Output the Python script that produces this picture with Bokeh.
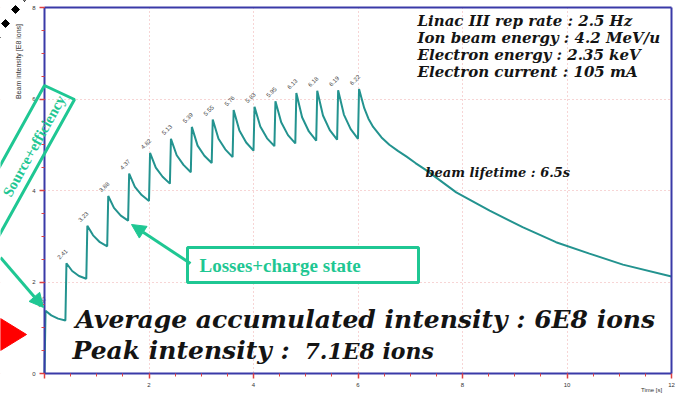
import math
from bokeh.plotting import figure
from bokeh.models import (Range1d, Label, Arrow, NormalHead, BoxAnnotation,
                          PolyAnnotation, FixedTicker, ColumnDataSource, LinearAxis)
from bokeh.embed import file_html
from bokeh.resources import INLINE
from bokeh.core.properties import value

# ---------------- data ----------------
inj_t = [0.0, 0.4, 0.8, 1.2, 1.6, 2.0, 2.4, 2.8, 3.2, 3.6, 4.0, 4.4, 4.8, 5.2, 5.6, 6.0]
peak_vals = [1.37, 2.41, 3.23, 3.88, 4.37, 4.82, 5.13, 5.39, 5.55, 5.76, 5.83, 5.95,
             6.13, 6.18, 6.19, 6.22]
peak_labels = ["1.37", "2.41", "3.23", "3.88", "4.37", "4.82", "5.13", "5.39", "5.55",
               "5.76", "5.83", "5.95", "6.13", "6.18", "6.19", "6.22"]
# values inside each decay between two injections
mid1_vals = [1.27, 2.24, 3.02, 3.62, 4.08, 4.50, 4.77, 4.98, 5.13, 5.31, 5.40, 5.49, 5.60, 5.64, 5.66]
mid2_vals = [1.20, 2.13, 2.87, 3.45, 3.90, 4.30, 4.56, 4.76, 4.90, 5.05, 5.14, 5.21, 5.29, 5.32, 5.34]
trough_vals = [1.16, 2.07, 2.78, 3.34, 3.77, 4.15, 4.40, 4.60, 4.73, 4.87, 4.97, 5.03, 5.09, 5.11, 5.13]
# final decay after the last injection
decay_t = [6.12, 6.20, 6.29, 6.45, 6.60, 6.77, 6.93, 7.10, 7.31, 7.88, 8.52, 9.15, 9.79,
           10.43, 11.07, 12.0]
decay_vals = [5.80, 5.57, 5.39, 5.16, 5.00, 4.86, 4.74, 4.60, 4.44, 3.96, 3.56, 3.20, 2.87,
              2.62, 2.38, 2.12]

x_ticks = [0, 2, 4, 6, 8, 10, 12]
y_ticks = [0, 2, 4, 6, 8]

info_lines = ["Linac III rep rate : 2.5 Hz", "Ion beam energy : 4.2 MeV/u",
              "Electron energy : 2.35 keV", "Electron current : 105 mA"]

# ---------------- build the curve ----------------
t_curve = [0.0]
y_curve = [0.0]
for i, t0 in enumerate(inj_t):
    t_curve.append(t0 + 0.02)
    y_curve.append(peak_vals[i])
    if i < len(trough_vals):
        t_curve += [t0 + 0.13, t0 + 0.26, t0 + 0.4]
        y_curve += [mid1_vals[i], mid2_vals[i], trough_vals[i]]
t_curve += decay_t
y_curve += decay_vals

# ---------------- geometry ----------------
W, H = 681, 396
L_B, R_B, T_B, B_B = 44, 10, 7, 23          # where the axes box sits in the canvas
SX = (W - L_B - R_B) / 12.0
SY = (H - T_B - B_B) / 8.0


def dx(px):
    return (px - L_B) / SX


def dy(py):
    return (H - B_B - py) / SY


AXIS = "#3a3aa8"
TICK = "#e04040"
GRID = "#eeaaaa"
CURVE = "#23938f"
GREEN = "#1fc793"
INK = "#141414"

p = figure(width=W, height=H,
           x_range=Range1d(dx(0), dx(W)), y_range=Range1d(dy(H), dy(0)),
           output_backend="svg", toolbar_location=None,
           min_border=0, min_border_left=0, min_border_right=0,
           min_border_top=0, min_border_bottom=0)
p.background_fill_color = "white"
p.border_fill_color = "white"
p.outline_line_color = None

xa = p.xaxis[0]
ya = p.yaxis[0]
xa.fixed_location = 0
ya.fixed_location = 0
xa.bounds = (0, 12)
ya.bounds = (0, 8)
xa.ticker = FixedTicker(ticks=x_ticks, minor_ticks=[i * 0.5 for i in range(25)])
ya.ticker = FixedTicker(ticks=y_ticks, minor_ticks=[i * 0.5 for i in range(17)])
xa.major_label_overrides = {0: ""}
for ax in (xa, ya):
    ax.axis_line_color = AXIS
    ax.axis_line_width = 2
    ax.major_tick_line_color = TICK
    ax.major_tick_line_width = 1.5
    ax.major_tick_out = 5
    ax.major_tick_in = 0
    ax.minor_tick_line_color = TICK
    ax.minor_tick_out = 3
    ax.minor_tick_in = 0
    ax.major_label_text_font_size = "6px"
    ax.major_label_text_color = "#333333"
    ax.major_label_text_font = "Liberation Sans"
    ax.major_label_standoff = 4

# closing lines of the box (top and right)
top_ax = LinearAxis(fixed_location=8, bounds=(0, 12), ticker=FixedTicker(ticks=[]),
                    major_tick_out=0, minor_tick_out=0, major_label_text_font_size="0px",
                    axis_line_color=AXIS, axis_line_width=2)
right_ax = LinearAxis(fixed_location=12, bounds=(0, 8), ticker=FixedTicker(ticks=[]),
                      major_tick_out=0, minor_tick_out=0, major_label_text_font_size="0px",
                      axis_line_color=AXIS, axis_line_width=2)
p.add_layout(top_ax, "above")
p.add_layout(right_ax, "right")

p.xgrid.ticker = FixedTicker(ticks=x_ticks)
p.ygrid.ticker = FixedTicker(ticks=y_ticks)
p.xgrid.grid_line_color = GRID
p.ygrid.grid_line_color = GRID
p.xgrid.grid_line_dash = "1 3"
p.ygrid.grid_line_dash = "1 3"
p.xgrid.grid_line_width = 1
p.ygrid.grid_line_width = 1

# white masks keep the grid inside the axes box
for kw in (dict(left=-50, right=0, bottom=-50, top=50), dict(left=12, right=50, bottom=-50, top=50),
           dict(left=-50, right=50, bottom=-50, top=0), dict(left=-50, right=50, bottom=8, top=50)):
    p.add_layout(BoxAnnotation(fill_color="white", fill_alpha=1.0, line_color=None,
                               level="underlay", **kw))

# curve
p.line(t_curve, y_curve, line_color=CURVE, line_width=2)

# peak value labels
src = ColumnDataSource(dict(x=[t + 0.02 for t in inj_t], y=peak_vals, txt=peak_labels))
p.text(x="x", y="y", text="txt", source=src, angle=math.pi / 4,
       x_offset=-4, y_offset=-9, text_align="center", text_baseline="middle",
       text_font_size="6px", text_color="#444444", text_font=value("Liberation Sans"))

# axis titles
p.add_layout(Label(x=dx(18), y=dy(61), text="Beam intensity [E8 ions]", angle=math.pi / 2,
                   text_align="center", text_baseline="middle", text_font_size="7px",
                   text_color="#333333", text_font="Liberation Sans"))
p.add_layout(Label(x=dx(651), y=dy(389), text="Time [s]", text_align="center",
                   text_baseline="middle", text_font_size="6px", text_color="#333333",
                   text_font="Liberation Sans"))

# info block
for k, line in enumerate(info_lines):
    p.add_layout(Label(x=dx(417), y=dy(20 + 17 * k), text=line, text_align="left",
                       text_baseline="middle", text_font="DejaVu Serif",
                       text_font_style="bold italic", text_font_size="15px",
                       text_color=INK))

p.add_layout(Label(x=dx(425), y=dy(172), text="beam lifetime : 6.5s", text_align="left",
                   text_baseline="middle", text_font="DejaVu Serif",
                   text_font_style="bold italic", text_font_size="13px", text_color=INK))

p.add_layout(Label(x=dx(75), y=dy(319), text="Average accumulated intensity : 6E8 ions",
                   text_align="left", text_baseline="alphabetic", text_font="DejaVu Serif",
                   text_font_style="bold italic", text_font_size="25px", text_color=INK))
p.add_layout(Label(x=dx(72), y=dy(350), text="Peak intensity :",
                   text_align="left", text_baseline="alphabetic", text_font="DejaVu Serif",
                   text_font_style="bold italic", text_font_size="25px", text_color=INK))
p.add_layout(Label(x=dx(304), y=dy(350), text="7.1E8 ions",
                   text_align="left", text_baseline="alphabetic", text_font="DejaVu Serif",
                   text_font_style="bold italic", text_font_size="22px", text_color=INK))

# "Losses+charge state" callout
p.add_layout(BoxAnnotation(left=dx(187), right=dx(418), top=dy(247), bottom=dy(282),
                           fill_color="white", fill_alpha=1.0, line_color=GREEN,
                           line_alpha=1.0, line_width=3))
p.add_layout(Label(x=dx(199), y=dy(265), text="Losses+charge state", text_align="left",
                   text_baseline="middle", text_font="Liberation Serif",
                   text_font_style="bold", text_font_size="19px", text_color=GREEN))
p.add_layout(Arrow(end=NormalHead(size=14, fill_color=GREEN, line_color=GREEN),
                   x_start=dx(190), y_start=dy(263), x_end=dx(131), y_end=dy(224),
                   line_color=GREEN, line_width=3))

# rotated "source+efficiency" callout on the left
ux, uy = -0.485, 0.875
A = (44, 85)
B = (74, 99)
Lb = 260
box_px = [A, B, (B[0] + ux * Lb, B[1] + uy * Lb), (A[0] + ux * Lb, A[1] + uy * Lb)]
p.add_layout(PolyAnnotation(xs=[dx(q[0]) for q in box_px], ys=[dy(q[1]) for q in box_px],
                            fill_alpha=0.0, line_color=GREEN, line_alpha=1.0, line_width=3))
p.add_layout(Label(x=dx(61), y=dy(96), text="Source+efficiency",
                   angle=math.atan2(0.875, 0.485), text_align="right",
                   text_baseline="middle", text_font="Liberation Serif",
                   text_font_style="bold", text_font_size="15px", text_color=GREEN))
p.add_layout(Arrow(end=NormalHead(size=14, fill_color=GREEN, line_color=GREEN),
                   x_start=dx(0), y_start=dy(257), x_end=dx(43), y_end=dy(307),
                   line_color=GREEN, line_width=3))

# red triangle pointer
tri = [(0, 318), (0, 350), (26, 334)]
p.add_layout(PolyAnnotation(xs=[dx(q[0]) for q in tri], ys=[dy(q[1]) for q in tri],
                            fill_color="#ff0000", fill_alpha=1.0, line_color="#ff0000",
                            line_alpha=1.0, line_width=1))

# black diamond chain in the corner
for cx, cy in [(-4, 37), (5, 23), (15, 9), (24, -3)]:
    d = [(cx, cy - 4), (cx + 4, cy), (cx, cy + 4), (cx - 4, cy)]
    p.add_layout(PolyAnnotation(xs=[dx(q[0]) for q in d], ys=[dy(q[1]) for q in d],
                                fill_color="black", fill_alpha=1.0, line_color="black",
                                line_alpha=1.0, line_width=1))

open("out.html", "w").write(file_html(p, INLINE))
